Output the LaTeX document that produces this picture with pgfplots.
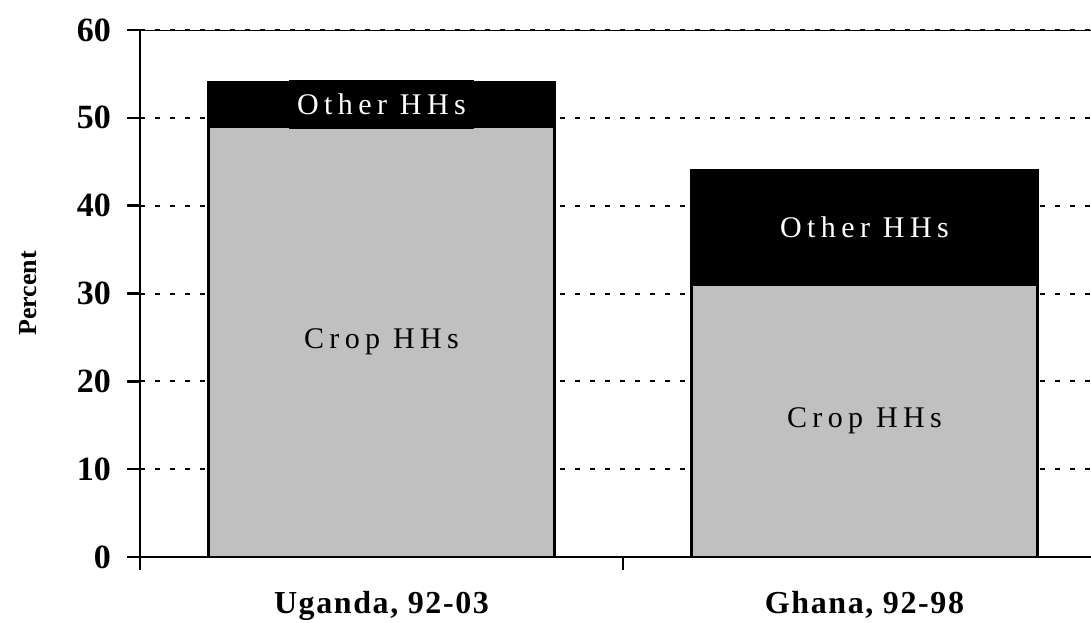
\documentclass[border=0pt]{standalone}
\usepackage{fontspec}
\setmainfont{Liberation Serif}
\newfontfamily\barfont[LetterSpace=18]{Liberation Serif}
\newfontfamily\catfont[LetterSpace=5]{Liberation Serif}
\usepackage{pgfplots}
\pgfplotsset{compat=1.18}
\definecolor{cropgray}{RGB}{192,192,192}
\begin{document}
\begin{tikzpicture}
\useasboundingbox (0,0) rectangle (545.5pt,311pt);
\begin{axis}[
  at={(70pt,32.5pt)}, anchor=south west,
  scale only axis, width=475.5pt, height=263.5pt,
  xmin=-0.5, xmax=1.469, ymin=0, ymax=60,
  ybar stacked, bar width=173pt,
  axis x line*=bottom, axis y line*=left,
  axis line style={line width=1.2pt, -},
  xtick={-0.5,0.5,1.5}, xticklabels={},
  extra x ticks={0,1},
  extra x tick labels={Uganda{,} 92-03, Ghana{,} 92-98},
  extra x tick style={xtick style={draw=none}},
  xtick style={line width=1.2pt, black},
  ytick={0,10,...,60},
  ytick style={line width=1.2pt, black},
  major tick length=6.5pt,
  tick align=outside,
  ymajorgrids,
  grid style={black, line width=1pt, dash pattern=on 2.5pt off 5pt},
  yticklabel style={font=\fontsize{17}{20}\selectfont\bfseries, xshift=-4.5pt},
  xticklabel style={font=\fontsize{16}{19}\selectfont\catfont\bfseries, yshift=-7pt},
  /pgf/number format/assume math mode=true,
  ylabel={Percent},
  ylabel style={font=\fontsize{13}{16}\selectfont\bfseries, at={(axis description cs:-0.1178,0.5)}, anchor=center},
]
\addplot[fill=cropgray, draw=black, line width=1.3pt] coordinates {(0,49) (1,31)};
\addplot[fill=black, draw=black, line width=1.3pt] coordinates {(0,5) (1,13)};
\draw[line width=1pt] (rel axis cs:0,1) -- (rel axis cs:1,1);
\coordinate (uo) at (axis cs:0,51.5);
\coordinate (go) at (axis cs:1,37.5);
\coordinate (uc) at (axis cs:0,24.5);
\coordinate (gc) at (axis cs:1,15.5);
\end{axis}
\node[fill=black, text=white, font=\fontsize{15}{18}\selectfont\barfont, inner xsep=4pt, inner ysep=7pt] at (uo) {Other HHs};
\node[text=white, font=\fontsize{15}{18}\selectfont\barfont] at (go) {Other HHs};
\node[text=black, font=\fontsize{15}{18}\selectfont\barfont] at (uc) {Crop HHs};
\node[text=black, font=\fontsize{15}{18}\selectfont\barfont] at (gc) {Crop HHs};
\end{tikzpicture}
\end{document}
